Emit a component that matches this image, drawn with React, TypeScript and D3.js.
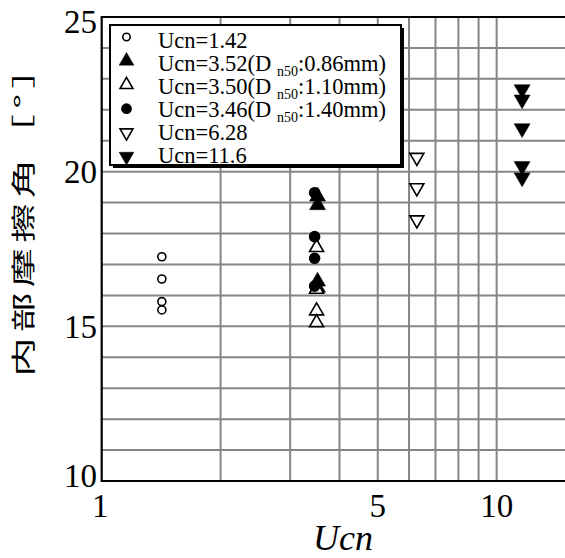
import React, { useEffect, useRef } from 'react';
import * as d3 from 'd3';

// x: Ucn (log), y: internal friction angle [deg]
const seriesLabels = ['Ucn=1.42', 'Ucn=3.52', 'Ucn=3.50', 'Ucn=3.46', 'Ucn=6.28', 'Ucn=11.6'];
const seriesUcn = [1.42, 3.52, 3.5, 3.46, 6.28, 11.6];
const seriesMarker = ['circleOpen', 'triUpFilled', 'triUpOpen', 'circleFilled', 'triDownOpen', 'triDownFilled'];
const seriesSub = ['', '0.86mm', '1.10mm', '1.40mm', '', ''];

const angles142 = [17.25, 16.53, 15.8, 15.53];
const angles352 = [19.2, 18.92, 16.45, 16.25];
const angles350 = [17.55, 16.2, 15.5, 15.12];
const angles346 = [19.32, 17.9, 17.2, 16.3];
const angles628 = [20.46, 19.48, 18.44];
const angles116 = [22.66, 22.33, 21.4, 20.18, 19.81];
const seriesAngles = [angles142, angles352, angles350, angles346, angles628, angles116];

const xTicks = [1, 5, 10];
const xGrid = [2, 3, 4, 5, 6, 7, 8, 9, 10];
const yTicks = [10, 15, 20, 25];
const yGrid = d3.range(11, 25);

const W = 565;
const H = 558;
const serif = "'Liberation Serif', 'DejaVu Serif', serif";

function drawMarker(g: any, type: string, x: number, y: number, scale = 1) {
  if (type === 'circleOpen' || type === 'circleFilled') {
    const filled = type === 'circleFilled';
    g.append('circle')
      .attr('cx', x)
      .attr('cy', y)
      .attr('r', (filled ? 5 : 4) * scale)
      .attr('fill', filled ? '#000' : '#fff')
      .attr('stroke', '#000')
      .attr('stroke-width', 1.6);
    return;
  }
  const up = type.startsWith('triUp');
  const filled = type.endsWith('Filled');
  const s = (filled ? 16 : 14) * scale;
  const h = s * 0.866;
  const dir = up ? 1 : -1;
  const pts: [number, number][] = [
    [x, y - dir * (2 * h) / 3],
    [x + s / 2, y + dir * h / 3],
    [x - s / 2, y + dir * h / 3]
  ];
  g.append('path')
    .attr('d', d3.line()(pts) + 'Z')
    .attr('fill', filled ? '#000' : '#fff')
    .attr('stroke', '#000')
    .attr('stroke-width', filled ? 0.5 : 1.6)
    .attr('stroke-linejoin', 'miter');
}

export default function App() {
  const svgRef = useRef<SVGSVGElement>(null);

  useEffect(() => {
    if (!svgRef.current) return;
    const svg = d3.select(svgRef.current);
    svg.selectAll('*').remove();

    const x = d3.scaleLog().domain([1, 15]).range([101.7, 566.2]);
    const y = d3.scaleLinear().domain([10, 25]).range([481, 17]);

    const grid = svg.append('g');
    // horizontal grid
    grid.selectAll('.hg')
      .data(yGrid)
      .enter()
      .append('line')
      .attr('x1', x(1))
      .attr('x2', W + 5)
      .attr('y1', d => y(d))
      .attr('y2', d => y(d))
      .attr('stroke', '#858585')
      .attr('stroke-width', 2);
    // vertical grid
    grid.selectAll('.vg')
      .data(xGrid)
      .enter()
      .append('line')
      .attr('x1', d => x(d))
      .attr('x2', d => x(d))
      .attr('y1', y(25))
      .attr('y2', y(10))
      .attr('stroke', '#858585')
      .attr('stroke-width', 2);

    // frame: left, bottom, top
    svg.append('line')
      .attr('x1', x(1)).attr('x2', x(1))
      .attr('y1', y(25) - 1).attr('y2', y(10) + 1)
      .attr('stroke', '#000').attr('stroke-width', 2.2);
    svg.append('line')
      .attr('x1', x(1)).attr('x2', W + 5)
      .attr('y1', y(10)).attr('y2', y(10))
      .attr('stroke', '#000').attr('stroke-width', 2.2);
    svg.append('line')
      .attr('x1', x(1)).attr('x2', W + 5)
      .attr('y1', y(25)).attr('y2', y(25))
      .attr('stroke', '#000').attr('stroke-width', 2.2);

    // tick labels
    svg.selectAll('.yl')
      .data(yTicks)
      .enter()
      .append('text')
      .attr('x', 97)
      .attr('y', d => Math.min(475, Math.max(21, y(d))))
      .attr('dy', '0.35em')
      .attr('text-anchor', 'end')
      .attr('font-family', serif)
      .attr('font-size', 33)
      .text(d => String(d));

    svg.selectAll('.xl')
      .data(xTicks)
      .enter()
      .append('text')
      .attr('x', d => (d === 1 ? x(d) - 1.5 : x(d)))
      .attr('y', 517)
      .attr('text-anchor', 'middle')
      .attr('font-family', serif)
      .attr('font-size', 33)
      .text(d => String(d));

    // axis titles
    svg.append('text')
      .attr('x', 343)
      .attr('y', 550)
      .attr('text-anchor', 'middle')
      .attr('font-family', serif)
      .attr('font-style', 'italic')
      .attr('font-size', 36)
      .text('Ucn');

    svg.append('g')
      .attr('transform', 'translate(32,213) rotate(-90) scale(1,0.62)')
      .append('text')
      .attr('x', 0)
      .attr('y', 0)
      .attr('text-anchor', 'middle')
      .attr('textLength', 327)
      .attr('lengthAdjust', 'spacing')
      .attr('font-family', "'Noto Sans CJK JP', sans-serif")
      .attr('font-size', 39)
      .text('内部摩擦角［°］');

    // data points
    const pts = svg.append('g');
    seriesAngles.forEach((vals, i) => {
      vals.forEach(v => drawMarker(pts, seriesMarker[i], x(seriesUcn[i]), y(v)));
    });

    // legend
    const lg = svg.append('g');
    lg.append('rect')
      .attr('x', 113).attr('y', 28).attr('width', 291).attr('height', 140)
      .attr('fill', '#000');
    lg.append('rect')
      .attr('x', 110).attr('y', 25).attr('width', 291).attr('height', 140)
      .attr('fill', '#fff').attr('stroke', '#000').attr('stroke-width', 2);

    seriesLabels.forEach((label, i) => {
      drawMarker(lg, seriesMarker[i], 126.5, 37 + i * 23.9, 0.92);
      const t = lg.append('text')
        .attr('x', 158)
        .attr('y', 48 + i * 23)
        .attr('font-family', serif)
        .attr('font-size', 22.5);
      t.append('tspan').text(label);
      if (seriesSub[i]) {
        t.append('tspan').text('(D ');
        t.append('tspan').attr('dy', 5).attr('font-size', 14).text('n50');
        t.append('tspan').attr('dy', -5).text(':' + seriesSub[i] + ')');
      }
    });
  }, []);

  return (
    <svg
      ref={svgRef}
      width={W}
      height={H}
      style={{ position: 'absolute', left: 0, top: 0, background: '#fff' }}
    />
  );
}
